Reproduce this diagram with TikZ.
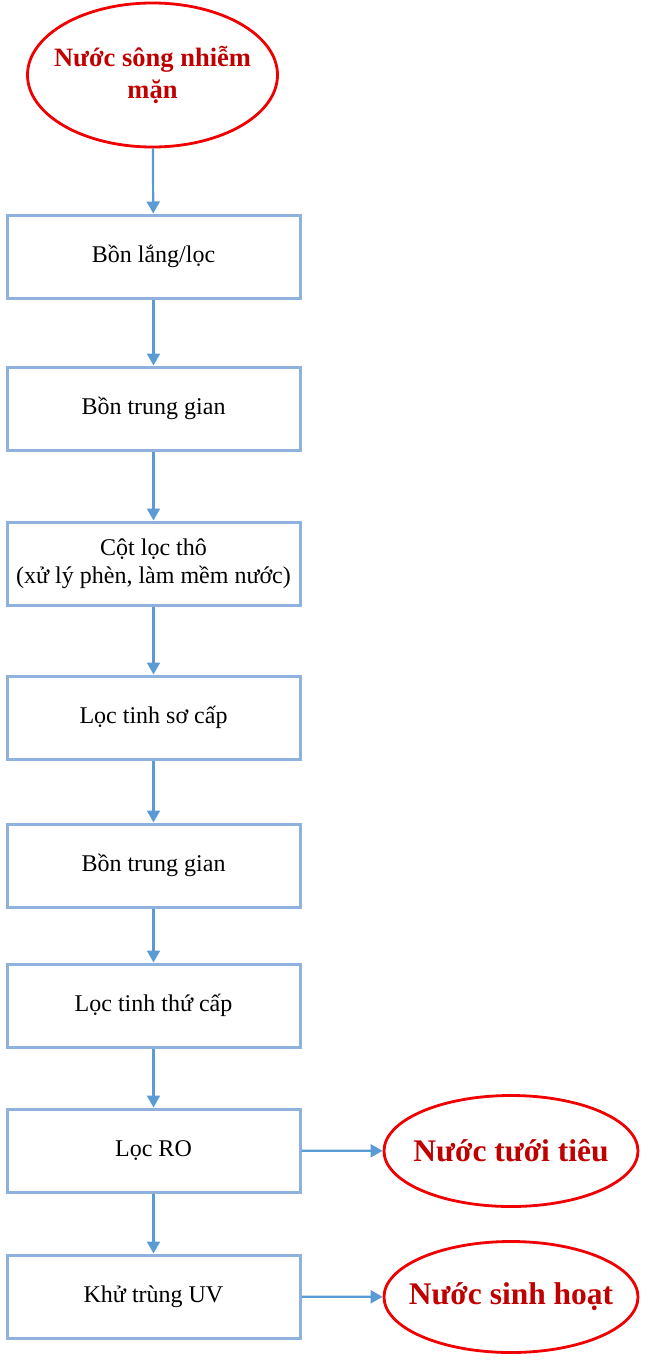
\documentclass[tikz,border=0pt]{standalone}
\usepackage{fontspec}
\setmainfont{Liberation Serif}
\usetikzlibrary{shapes.geometric,arrows.meta}
\definecolor{boxblue}{RGB}{143,177,222}
\definecolor{arrblue}{RGB}{91,155,213}
\definecolor{darkred}{RGB}{192,0,0}
\definecolor{ellred}{RGB}{240,0,0}
\tikzset{
  stepbox/.style={draw=boxblue, line width=3pt, minimum width=293pt, minimum height=83pt, inner sep=0pt, align=center, font=\fontsize{24}{27.5}\selectfont, fill=white},
  endell/.style={draw=ellred, ellipse, line width=2.8pt, inner xsep=-30pt, inner ysep=0pt, align=center, text=darkred, font=\bfseries},
  flow/.style={draw=arrblue, line width=2.2pt, -{Triangle[length=12pt,width=13pt]}}
}
\begin{document}
\begin{tikzpicture}[x=1pt,y=-1pt]
\useasboundingbox (0,0) rectangle (645,1362);
\node[endell, minimum width=250pt, minimum height=144pt, font=\bfseries\fontsize{26.5}{32}\selectfont] (src) at (152.5,75) {Nước sông nhiễm\\mặn};
\node[stepbox] (b1) at (153.5,256.5) {Bồn lắng/lọc};
\node[stepbox] (b2) at (153.5,408.5) {Bồn trung gian};
\node[stepbox] (b3) at (153.5,563.5) {Cột lọc thô\\(xử lý phèn, làm mềm nước)};
\node[stepbox] (b4) at (153.5,717.5) {Lọc tinh sơ cấp};
\node[stepbox] (b5) at (153.5,865.5) {Bồn trung gian};
\node[stepbox] (b6) at (153.5,1005.5) {Lọc tinh thứ cấp};
\node[stepbox] (b7) at (153.5,1150.5) {Lọc RO};
\node[stepbox] (b8) at (153.5,1296.5) {Khử trùng UV};
\node[endell, minimum width=254pt, minimum height=111pt, font=\bfseries\fontsize{31.5}{36}\selectfont] (irr) at (511,1151) {Nước tưới tiêu};
\node[endell, minimum width=254pt, minimum height=111pt, font=\bfseries\fontsize{31.5}{36}\selectfont] (dom) at (511,1297) {Nước sinh hoạt};
\draw[flow] (src) -- (b1);
\draw[flow] (b1) -- (b2);
\draw[flow] (b2) -- (b3);
\draw[flow] (b3) -- (b4);
\draw[flow] (b4) -- (b5);
\draw[flow] (b5) -- (b6);
\draw[flow] (b6) -- (b7);
\draw[flow] (b7) -- (b8);
\draw[flow] (b7) -- (irr);
\draw[flow] (b8) -- (dom);
\end{tikzpicture}
\end{document}
